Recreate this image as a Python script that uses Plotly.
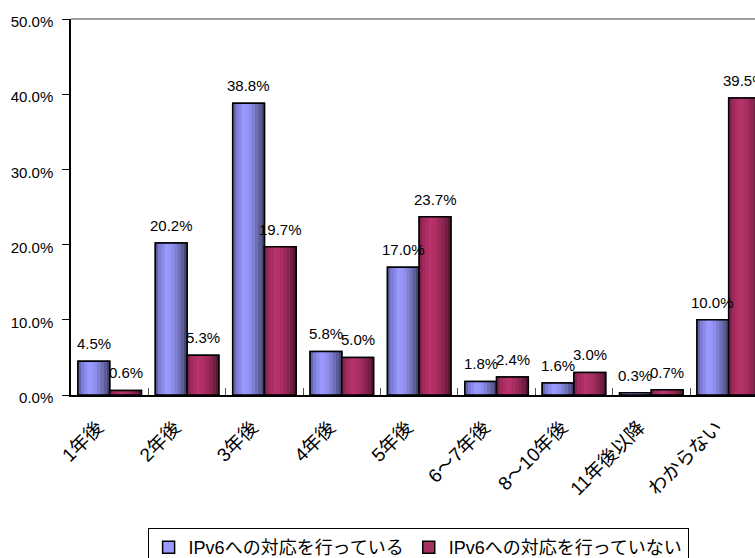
import plotly.graph_objects as go

categories = ["1年後", "2年後", "3年後", "4年後", "5年後", "6～7年後", "8～10年後", "11年後以降", "わからない"]
series_names = ["IPv6への対応を行っている", "IPv6への対応を行っていない"]
values_doing = [4.5, 20.2, 38.8, 5.8, 17.0, 1.8, 1.6, 0.3, 10.0]
values_not_doing = [0.6, 5.3, 19.7, 5.0, 23.7, 2.4, 3.0, 0.7, 39.5]
y_ticks = [0, 10, 20, 30, 40, 50]
y_tick_labels = ["%.1f%%" % v for v in y_ticks]

FONT = "Liberation Sans, Arial, Noto Sans CJK JP"
BAR_W = 0.41
N_STRIPS = 10

# shading profiles (position across bar -> rgb) to imitate the cylinder-like shading
profiles = [
    [(0.0, (88, 88, 150)), (0.15, (125, 125, 215)), (0.35, (153, 153, 255)),
     (0.5, (148, 148, 245)), (0.7, (120, 120, 200)), (0.85, (92, 92, 150)), (1.0, (60, 60, 100))],
    [(0.0, (120, 30, 72)), (0.15, (160, 42, 92)), (0.35, (184, 51, 107)),
     (0.5, (176, 48, 102)), (0.7, (148, 40, 86)), (0.85, (115, 30, 68)), (1.0, (75, 20, 45))],
]
base_colors = ["#9999ff", "#a8305f"]
label_xshift = [-16, 16]


def shade(profile, t):
    for (t0, c0), (t1, c1) in zip(profile, profile[1:]):
        if t0 <= t <= t1:
            f = (t - t0) / (t1 - t0)
            return "rgb(%d,%d,%d)" % tuple(round(a + (b - a) * f) for a, b in zip(c0, c1))
    return "rgb(%d,%d,%d)" % profile[-1][1]


fig = go.Figure()
series = [values_doing, values_not_doing]
offsets = [-BAR_W, 0.0]
annotations = []

for s, vals in enumerate(series):
    off = offsets[s]
    fig.add_trace(go.Bar(
        x=categories, y=vals, name=series_names[s], offset=off, width=BAR_W,
        marker=dict(color=base_colors[s], line=dict(color="black", width=1.5)),
        hoverinfo="skip", showlegend=True,
    ))
    sw = BAR_W / N_STRIPS
    for i in range(N_STRIPS):
        fig.add_trace(go.Bar(
            x=categories, y=vals, offset=off + i * sw, width=sw * 1.02,
            marker=dict(color=shade(profiles[s], (i + 0.5) / N_STRIPS), line=dict(width=0)),
            hoverinfo="skip", showlegend=False,
        ))
    fig.add_trace(go.Bar(
        x=categories, y=vals, offset=off, width=BAR_W,
        marker=dict(color="rgba(0,0,0,0)", line=dict(color="black", width=1.5)),
        hoverinfo="skip", showlegend=False, cliponaxis=False,
    ))
    for c, v in zip(categories, vals):
        annotations.append(dict(
            x=c, y=v, xref="x", yref="y", text="%.1f%%" % v, showarrow=False,
            xanchor="center", yanchor="bottom", xshift=label_xshift[s], yshift=7,
            font=dict(family=FONT, size=15, color="black"),
        ))

fig.update_layout(
    width=755, height=558, autosize=False,
    margin=dict(l=71, r=0, t=19, b=163, autoexpand=False),
    plot_bgcolor="white", paper_bgcolor="white",
    barmode="overlay",
    font=dict(family=FONT, size=15, color="black"),
    xaxis=dict(
        type="category", range=[-0.5, 8.34], automargin=False,
        showline=True, linecolor="black", linewidth=1.5,
        ticks="inside", tickson="boundaries", ticklen=7, tickcolor="#555", tickwidth=1,
        tickangle=-45, tickfont=dict(family=FONT, size=19),
        ticklabelstandoff=12, ticklabelshift=-12,
        showgrid=False, zeroline=False,
    ),
    yaxis=dict(
        range=[0, 50], tickvals=y_ticks, ticktext=y_tick_labels, automargin=False,
        showline=True, linecolor="black", linewidth=1.5,
        ticks="outside", ticklen=7, tickcolor="black",
        tickfont=dict(family=FONT, size=15), ticklabelstandoff=6, ticklabelshift=3,
        showgrid=False, zeroline=False,
    ),
    legend=dict(
        orientation="h", x=0.112, xanchor="left", y=-0.3537, yanchor="top",
        bordercolor="black", borderwidth=1, font=dict(family=FONT, size=18),
        bgcolor="white", itemwidth=30,
    ),
    annotations=annotations,
    shapes=[dict(type="line", xref="paper", yref="paper", x0=0, x1=1, y0=1, y1=1,
                 line=dict(color="#a0a0a0", width=2))],
)

fig.write_html(
    "out.html",
    config={"displayModeBar": False},
    post_script="document.body.style.margin='0';document.body.style.overflow='hidden';",
)
